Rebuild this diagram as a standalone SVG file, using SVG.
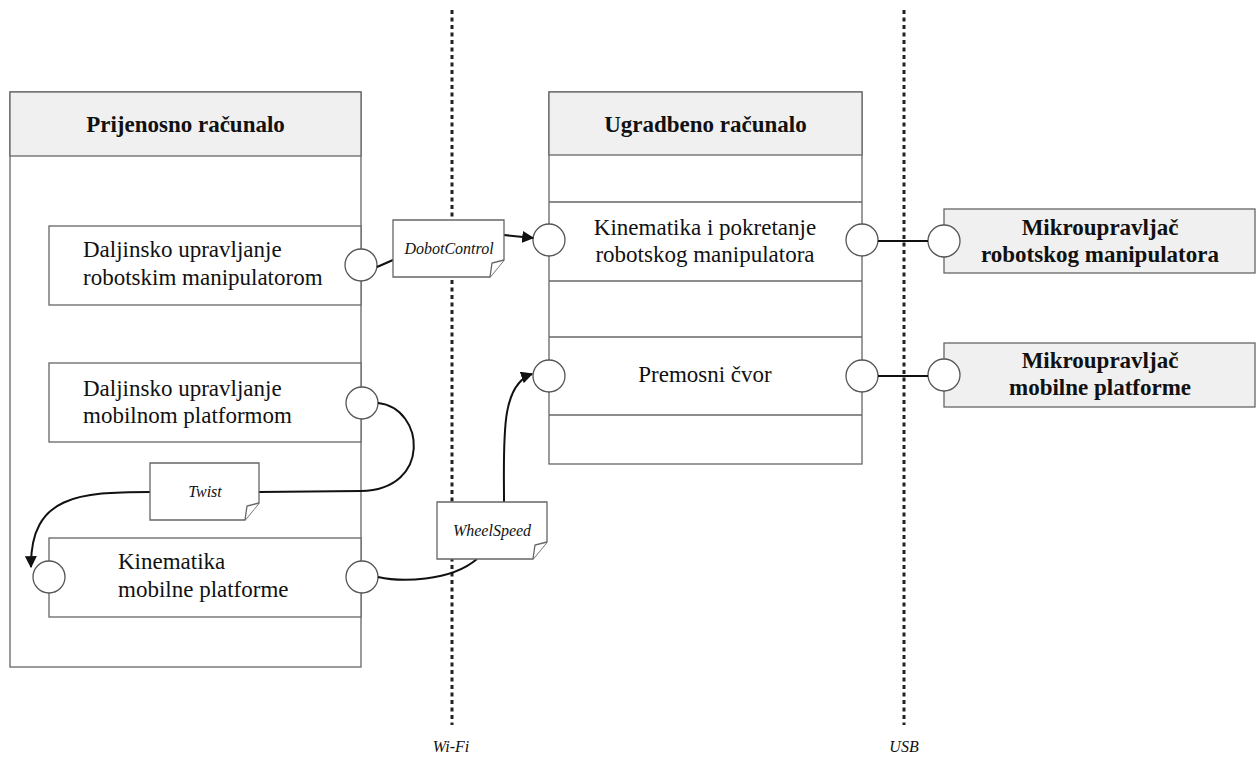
<svg xmlns="http://www.w3.org/2000/svg" width="1256" height="760" viewBox="0 0 1256 760" font-family="Liberation Serif, serif">
<style>
.box{fill:#fff;stroke:#666;stroke-width:1.3}
.hdr{fill:#f0f0f0;stroke:#666;stroke-width:1.3}
.port{fill:#fff;stroke:#555;stroke-width:1.3}
.t{font-size:23px;fill:#111}
.b{font-weight:bold}
.i{font-style:italic;font-size:16px;fill:#111}
.c{fill:none;stroke:#111;stroke-width:2}
.sep{stroke:#222;stroke-width:3;stroke-dasharray:4,3.5}
</style>
<defs>
<marker id="ah" viewBox="0 0 10 10" refX="9" refY="5" markerWidth="6" markerHeight="6" orient="auto" markerUnits="strokeWidth">
<path d="M0,0 L10,5 L0,10 z" fill="#111"/>
</marker>
</defs>
<rect width="1256" height="760" fill="#fff"/>

<g id="separators">
<line class="sep" x1="452" y1="10" x2="452" y2="725"/>
<line class="sep" x1="904" y1="10" x2="904" y2="725"/>
<text class="i" x="451" y="752" text-anchor="middle">Wi-Fi</text>
<text class="i" x="904" y="752" text-anchor="middle">USB</text>
</g>

<g id="prijenosno">
<rect class="box" x="10" y="92" width="351" height="575"/>
<rect class="hdr" x="10" y="92" width="351" height="64"/>
<text class="t b" x="185.5" y="132" text-anchor="middle">Prijenosno računalo</text>
</g>

<g id="daljinsko-manipulator">
<rect class="box" x="49" y="226" width="312" height="79"/>
<text class="t" x="83" y="257">Daljinsko upravljanje</text>
<text class="t" x="83" y="285">robotskim manipulatorom</text>
<circle class="port" cx="361" cy="265" r="16"/>
</g>

<g id="daljinsko-platforma">
<rect class="box" x="49" y="363" width="312" height="79"/>
<text class="t" x="83" y="396">Daljinsko upravljanje</text>
<text class="t" x="83" y="423">mobilnom platformom</text>
<circle class="port" cx="362" cy="403" r="16"/>
</g>

<g id="kinematika-platforme">
<rect class="box" x="49" y="538" width="312" height="79"/>
<text class="t" x="118" y="569">Kinematika</text>
<text class="t" x="118" y="597">mobilne platforme</text>
<circle class="port" cx="49" cy="577" r="16"/>
<circle class="port" cx="362" cy="577" r="16"/>
</g>

<g id="ugradbeno">
<rect class="box" x="549" y="92" width="313" height="372"/>
<rect class="hdr" x="549" y="92" width="313" height="63"/>
<text class="t b" x="705.5" y="132" text-anchor="middle">Ugradbeno računalo</text>
<line x1="549" y1="202" x2="862" y2="202" stroke="#666" stroke-width="1.3"/>
<line x1="549" y1="281" x2="862" y2="281" stroke="#666" stroke-width="1.3"/>
<line x1="549" y1="337" x2="862" y2="337" stroke="#666" stroke-width="1.3"/>
<line x1="549" y1="415" x2="862" y2="415" stroke="#666" stroke-width="1.3"/>
</g>

<g id="kinematika-manipulatora">
<text class="t" x="705" y="235" text-anchor="middle">Kinematika i pokretanje</text>
<text class="t" x="705" y="262" text-anchor="middle">robotskog manipulatora</text>
<circle class="port" cx="549" cy="240" r="16"/>
<circle class="port" cx="862" cy="240" r="16"/>
</g>

<g id="premosni">
<text class="t" x="705" y="382" text-anchor="middle">Premosni čvor</text>
<circle class="port" cx="549" cy="376" r="16"/>
<circle class="port" cx="862" cy="376" r="16"/>
</g>

<g id="mikro-manipulator">
<rect class="hdr" x="944" y="209" width="311" height="64"/>
<text class="t b" x="1100" y="235" text-anchor="middle">Mikroupravljač</text>
<text class="t b" x="1100" y="262" text-anchor="middle">robotskog manipulatora</text>
<circle class="port" cx="944" cy="241" r="16"/>
</g>

<g id="mikro-platforma">
<rect class="hdr" x="944" y="343" width="311" height="64"/>
<text class="t b" x="1100" y="368" text-anchor="middle">Mikroupravljač</text>
<text class="t b" x="1100" y="395" text-anchor="middle">mobilne platforme</text>
<circle class="port" cx="944" cy="375" r="16"/>
</g>

<g id="connectors">
<path class="c" d="M377,267 L393,260"/>
<path class="c" d="M504,235 L533,238" marker-end="url(#ah)"/>
<path class="c" d="M878,241 L928,241"/>
<path class="c" d="M878,376 L928,376"/>
<path class="c" d="M378,403 C425,408 432,490 361,491 L259,492"/>
<path class="c" d="M150,492 C80,492 30,495 31,567" marker-end="url(#ah)"/>
<path class="c" d="M378,577 C400,582 450,582 477,559"/>
<path class="c" d="M504,502 C504,440 500,385 532,374" marker-end="url(#ah)"/>
</g>

<g id="note-dobot">
<path class="box" d="M393,220 L504,220 L504,260 L490,277 L393,277 Z"/>
<path class="box" d="M490,277 L492,263 L504,260"/>
<text class="i" x="449" y="254" text-anchor="middle">DobotControl</text>
</g>

<g id="note-twist">
<path class="box" d="M150,463 L259,463 L259,503 L245,520 L150,520 Z"/>
<path class="box" d="M245,520 L247,506 L259,503"/>
<text class="i" x="205" y="497" text-anchor="middle">Twist</text>
</g>

<g id="note-wheel">
<path class="box" d="M437,502 L547,502 L547,542 L533,559 L437,559 Z"/>
<path class="box" d="M533,559 L535,545 L547,542"/>
<text class="i" x="492" y="536" text-anchor="middle">WheelSpeed</text>
</g>
</svg>
